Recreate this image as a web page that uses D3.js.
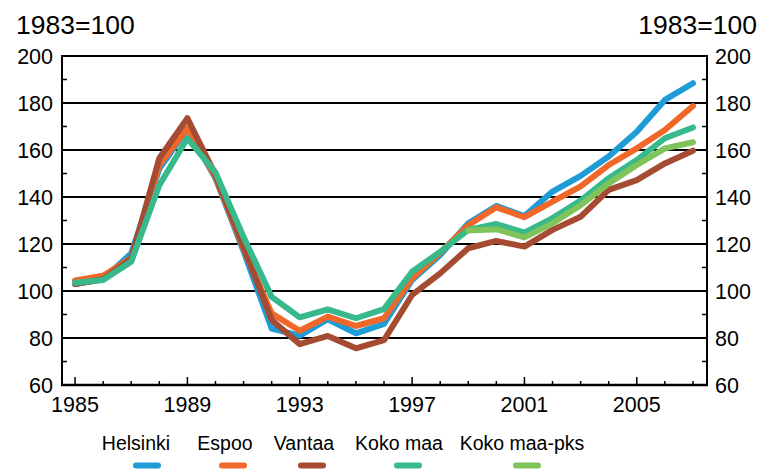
<!DOCTYPE html>
<html lang="en">
<head>
    <meta charset="UTF-8">
    <title>1983=100</title>
    <script src="https://d3js.org/d3.v7.min.js"></script>
    <style>
        body { margin: 0; background: #fff; }
        svg { display: block; font-family: "Liberation Sans", Arial, sans-serif; }
    </style>
</head>
<body>
    <div id="chart"></div>

    <script>
        const years = d3.range(1985, 2008);
        const helsinki = [103, 105, 116, 152, 169, 148, 117, 84, 81, 88, 82, 86, 104.7, 115.3, 128.8, 136.2, 131.9, 142.3, 149, 157.2, 167.8, 181.3, 188.4];
        const espoo = [104.5, 106.5, 114, 153.6, 169.2, 148.5, 118, 90.5, 83.1, 89.1, 85.1, 88.4, 105.4, 116.3, 128, 135.6, 131.4, 138, 144.5, 153.6, 160.7, 168.5, 178.7];
        const vantaa = [103, 105, 113.6, 156.5, 173.5, 149.4, 118.9, 87.7, 77.4, 80.9, 75.6, 79.1, 98.3, 107.5, 118.2, 121.3, 118.9, 126, 131.6, 143, 147.2, 154.3, 159.7];
        const kokoMaa = [103.5, 104.7, 112.5, 145, 165, 150.5, 123, 97.5, 88.8, 92.2, 88.4, 92.3, 108.2, 116.7, 126, 128.5, 124.8, 131, 138.5, 148, 155.7, 165, 169.6];
        const kokoMaaPks = [null, null, null, null, null, null, null, null, null, null, null, null, null, null, 125.7, 126.3, 122.8, 128.8, 136.5, 145.8, 153.6, 160.7, 163.3];

        const seriesNames = ["Helsinki", "Espoo", "Vantaa", "Koko maa", "Koko maa-pks"];
        const seriesValues = [helsinki, espoo, vantaa, kokoMaa, kokoMaaPks];
        const colors = ["#1f9bd6", "#f0672a", "#a54b31", "#38b98b", "#80c35a"];
        const yTicks = [60, 80, 100, 120, 140, 160, 180, 200];
        const yMinor = [70, 90, 110, 130, 150, 170, 190];
        const xLabels = [1985, 1989, 1993, 1997, 2001, 2005];
        const unit = "1983=100";

        const width = 758, height = 469;
        const plotLeft = 62, plotRight = 707, plotTop = 56, plotBottom = 385;

        const svg = d3.select("#chart").append("svg")
            .attr("width", width)
            .attr("height", height);

        const x = d3.scaleLinear().domain([1984.5, 2007.5]).range([61, 707]);
        const y = d3.scaleLinear().domain([60, 200]).range([plotBottom, plotTop]);

        // grid lines
        svg.append("g").selectAll("line")
            .data(yTicks.filter(d => d > 60))
            .enter().append("line")
            .attr("x1", plotLeft).attr("x2", plotRight)
            .attr("y1", d => y(d)).attr("y2", d => y(d))
            .attr("stroke", "#000").attr("stroke-width", 2);

        // axes frame
        svg.append("line").attr("x1", plotLeft).attr("x2", plotLeft).attr("y1", plotTop - 1).attr("y2", plotBottom + 1)
            .attr("stroke", "#000").attr("stroke-width", 2);
        svg.append("line").attr("x1", plotRight).attr("x2", plotRight).attr("y1", plotTop - 1).attr("y2", plotBottom + 1)
            .attr("stroke", "#000").attr("stroke-width", 2);
        svg.append("line").attr("x1", plotLeft - 1).attr("x2", plotRight + 1).attr("y1", plotBottom).attr("y2", plotBottom)
            .attr("stroke", "#000").attr("stroke-width", 2.5);

        // minor y ticks
        svg.append("g").selectAll("line")
            .data(yMinor)
            .enter().append("line")
            .attr("x1", plotLeft).attr("x2", plotLeft + 5)
            .attr("y1", d => y(d)).attr("y2", d => y(d))
            .attr("stroke", "#000").attr("stroke-width", 1.5);
        svg.append("g").selectAll("line")
            .data(yMinor)
            .enter().append("line")
            .attr("x1", plotRight - 5).attr("x2", plotRight)
            .attr("y1", d => y(d)).attr("y2", d => y(d))
            .attr("stroke", "#000").attr("stroke-width", 1.5);

        // x ticks
        svg.append("g").selectAll("line")
            .data(years)
            .enter().append("line")
            .attr("x1", d => x(d)).attr("x2", d => x(d))
            .attr("y1", plotBottom)
            .attr("y2", d => xLabels.includes(d) ? plotBottom - 8 : plotBottom - 4)
            .attr("stroke", "#000").attr("stroke-width", 1.5);

        // y labels
        svg.append("g").selectAll("text")
            .data(yTicks)
            .enter().append("text")
            .attr("x", 53).attr("y", d => y(d))
            .attr("dy", "0.36em")
            .attr("text-anchor", "end")
            .attr("font-size", 21.5)
            .text(d => d);
        svg.append("g").selectAll("text")
            .data(yTicks)
            .enter().append("text")
            .attr("x", 715).attr("y", d => y(d))
            .attr("dy", "0.36em")
            .attr("font-size", 21.5)
            .text(d => d);

        // x labels
        svg.append("g").selectAll("text")
            .data(xLabels)
            .enter().append("text")
            .attr("x", d => x(d)).attr("y", 412)
            .attr("text-anchor", "middle")
            .attr("font-size", 21.5)
            .text(d => d);

        // unit titles
        svg.append("text").attr("x", 16).attr("y", 34).attr("font-size", 26.5).text(unit);
        svg.append("text").attr("x", 757).attr("y", 34).attr("font-size", 26.5)
            .attr("text-anchor", "end").text(unit);

        // lines
        const line = d3.line()
            .defined(d => d[1] != null)
            .x(d => x(d[0]))
            .y(d => y(d[1]));

        seriesValues.forEach((vals, i) => {
            svg.append("path")
                .datum(years.map((yr, j) => [yr, vals[j]]))
                .attr("d", line)
                .attr("fill", "none")
                .attr("stroke", colors[i])
                .attr("stroke-width", 6)
                .attr("stroke-linejoin", "round")
                .attr("stroke-linecap", "round");
        });

        // legend
        const legendText = [136, 225, 304, 399, 522];
        const legendSwatch = [147, 233, 312, 408, 527];
        const legend = svg.append("g");
        legend.selectAll("text")
            .data(seriesNames)
            .enter().append("text")
            .attr("x", (d, i) => legendText[i]).attr("y", 450)
            .attr("text-anchor", "middle")
            .attr("font-size", 19.5)
            .text(d => d);
        legend.selectAll("line")
            .data(seriesNames)
            .enter().append("line")
            .attr("x1", (d, i) => legendSwatch[i] - 11)
            .attr("x2", (d, i) => legendSwatch[i] + 11)
            .attr("y1", 465.5).attr("y2", 465.5)
            .attr("stroke", (d, i) => colors[i])
            .attr("stroke-width", 6)
            .attr("stroke-linecap", "round");
    </script>
</body>
</html>
